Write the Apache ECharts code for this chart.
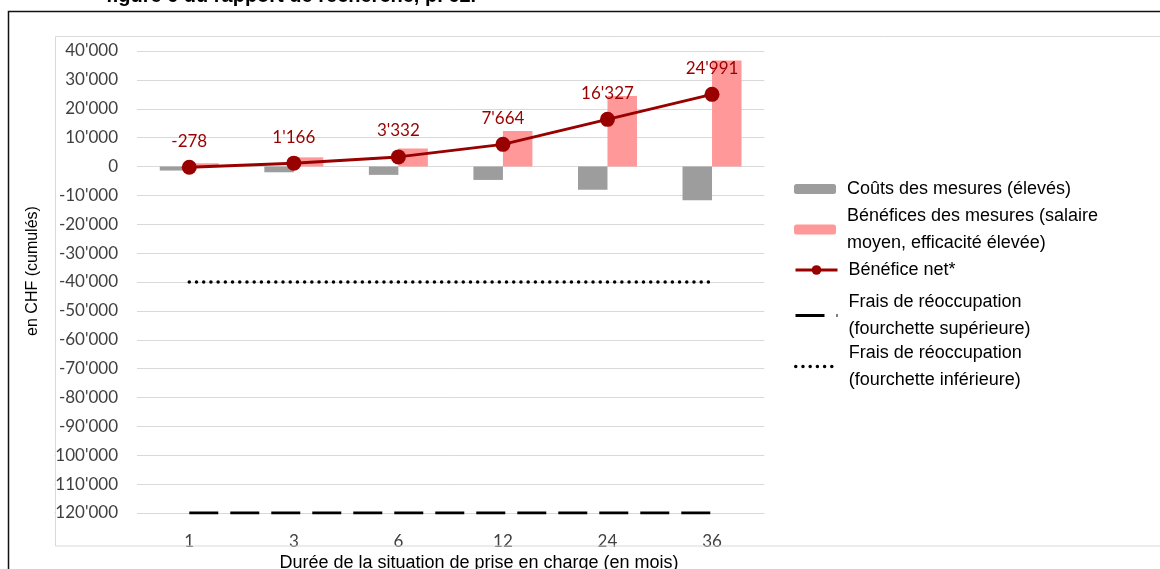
<!DOCTYPE html>
<html>
<head>
<meta charset="utf-8">
<script src="https://cdn.jsdelivr.net/npm/echarts@6/dist/echarts.min.js"></script>
<style>
  html, body { margin: 0; padding: 0; background: #fff; }
  #chart { width: 1160px; height: 569px; }
</style>
</head>
<body>
<div id="chart"></div>
<script>
// ---- Data ----
const categories = ['1', '3', '6', '12', '24', '36'];
const costs = [-1400, -2000, -2900, -4650, -8050, -11700];
const benefits = [1122, 3166, 6232, 12314, 24377, 36691];
const netBenefit = [-278, 1166, 3332, 7664, 16327, 24991];
const feesUpper = [-120000, -120000, -120000, -120000, -120000, -120000];
const feesLower = [-40000, -40000, -40000, -40000, -40000, -40000];

const nameCosts = 'Coûts des mesures (élevés)';
const nameBenefits = 'Bénéfices des mesures (salaire moyen, efficacité élevée)';
const nameNet = 'Bénéfice net*';
const nameUpper = 'Frais de réoccupation (fourchette supérieure)';
const nameLower = 'Frais de réoccupation (fourchette inférieure)';
const legendText = {};
legendText[nameCosts] = 'Coûts des mesures (élevés)';
legendText[nameBenefits] = 'Bénéfices des mesures (salaire\nmoyen, efficacité élevée)';
legendText[nameNet] = 'Bénéfice net*';
legendText[nameUpper] = 'Frais de réoccupation\n(fourchette supérieure)';
legendText[nameLower] = 'Frais de réoccupation\n(fourchette inférieure)';

const titleText = 'figure 6 du rapport de recherche, p. 62.';
const xTitle = 'Durée de la situation de prise en charge (en mois)';
const yTitle = 'en CHF (cumulés)';

function fmt(v) {
  const s = Math.abs(v).toString().replace(/\B(?=(\d{3})+(?!\d))/g, "'");
  return (v < 0 ? '-' : '') + s;
}

const chart = echarts.init(document.getElementById('chart'), null, { renderer: 'canvas' });

function legendAt(name, top, lw, ih, hideSymbol) {
  const l = {
    data: [name],
    orient: 'vertical',
    left: 794,
    top: top,
    padding: 0,
    itemWidth: 42,
    itemHeight: ih,
    selectedMode: false,
    formatter: n => legendText[n] || n,
    lineStyle: { width: lw },
    textStyle: {
      fontFamily: 'Liberation Sans, Arial, sans-serif',
      fontSize: 18,
      lineHeight: 27,
      color: '#000',
      padding: [0, 0, 0, 6]
    }
  };
  if (hideSymbol) l.itemStyle = { opacity: 0 };
  return l;
}

const option = {
  animation: false,
  backgroundColor: '#fff',
  title: {
    text: titleText,
    left: 106,
    top: -14,
    padding: 0,
    textStyle: {
      fontFamily: 'Liberation Sans, Arial, sans-serif',
      fontWeight: 'bold',
      fontSize: 20,
      color: '#000'
    }
  },
  legend: [
    legendAt(nameCosts, 175.5, 3, 10, false),
    legendAt(nameBenefits, 202.5, 3, 10, false),
    legendAt(nameNet, 256.5, 3, 12, false),
    legendAt(nameUpper, 288.5, 3, 10, true),
    legendAt(nameLower, 339.5, 3.5, 10, true)
  ],
  grid: {
    left: 137,
    right: 395.7,
    top: 51,
    bottom: 56,
    containLabel: false
  },
  xAxis: {
    type: 'category',
    data: categories,
    axisLine: { show: false },
    axisTick: { show: false },
    splitLine: { show: false },
    axisLabel: {
      margin: 20,
      fontFamily: 'Lato, sans-serif',
      fontSize: 17,
      color: '#404040'
    }
  },
  yAxis: {
    type: 'value',
    min: -120000,
    max: 40000,
    interval: 10000,
    axisLine: { show: false },
    axisTick: { show: false },
    splitLine: { lineStyle: { color: '#d9d9d9', width: 1 } },
    axisLabel: {
      margin: 19,
      fontFamily: 'Lato, sans-serif',
      fontSize: 17,
      color: '#404040',
      formatter: fmt
    }
  },
  series: [
    {
      name: nameCosts,
      type: 'bar',
      data: costs,
      barWidth: 29.5,
      barGap: '0%',
      itemStyle: { color: '#9d9d9d' },
      z: 2
    },
    {
      name: nameBenefits,
      type: 'bar',
      data: benefits,
      barWidth: 29.5,
      barGap: '0%',
      itemStyle: { color: '#ff9999' },
      z: 2
    },
    {
      name: nameUpper,
      type: 'line',
      data: feesUpper,
      symbol: 'none',
      lineStyle: { color: '#000', width: 3, type: [29, 12], cap: 'butt' },
      itemStyle: { color: '#000' },
      z: 3
    },
    {
      name: nameLower,
      type: 'line',
      data: feesLower,
      symbol: 'none',
      lineStyle: { color: '#000', width: 3.5, type: [0.01, 7.2], cap: 'round' },
      itemStyle: { color: '#000' },
      z: 3
    },
    {
      name: nameNet,
      type: 'line',
      data: netBenefit,
      symbol: 'circle',
      symbolSize: 15,
      lineStyle: { color: '#990000', width: 3 },
      itemStyle: { color: '#990000' },
      label: {
        show: true,
        position: 'top',
        distance: 10,
        fontFamily: 'Lato, sans-serif',
        fontSize: 17,
        color: '#990000',
        formatter: p => fmt(p.value)
      },
      z: 5
    }
  ],
  graphic: [
    {
      type: 'rect',
      z: 100,
      shape: { x: 43, y: 37, width: 11.5, height: 508 },
      style: { fill: '#fff' },
      silent: true
    },
    {
      type: 'rect',
      z: 101,
      shape: { x: 55.5, y: 36.5, width: 1200, height: 509.5 },
      style: { fill: null, stroke: '#d9d9d9', lineWidth: 1 },
      silent: true
    },
    {
      type: 'rect',
      z: 101,
      shape: { x: 8.5, y: 11.5, width: 1200, height: 600 },
      style: { fill: null, stroke: '#111', lineWidth: 1.5 },
      silent: true
    },
    {
      type: 'text',
      z: 101,
      x: 33,
      y: 271,
      rotation: Math.PI / 2,
      style: {
        text: yTitle,
        fontFamily: 'Liberation Sans, Arial, sans-serif',
        fontSize: 16,
        fill: '#000',
        align: 'center',
        verticalAlign: 'middle'
      },
      silent: true
    },
    {
      type: 'text',
      z: 101,
      x: 479,
      y: 563,
      style: {
        text: xTitle,
        fontFamily: 'Liberation Sans, Arial, sans-serif',
        fontSize: 18,
        fill: '#000',
        align: 'center',
        verticalAlign: 'middle'
      },
      silent: true
    }
  ]
};

chart.setOption(option);
</script>
</body>
</html>
